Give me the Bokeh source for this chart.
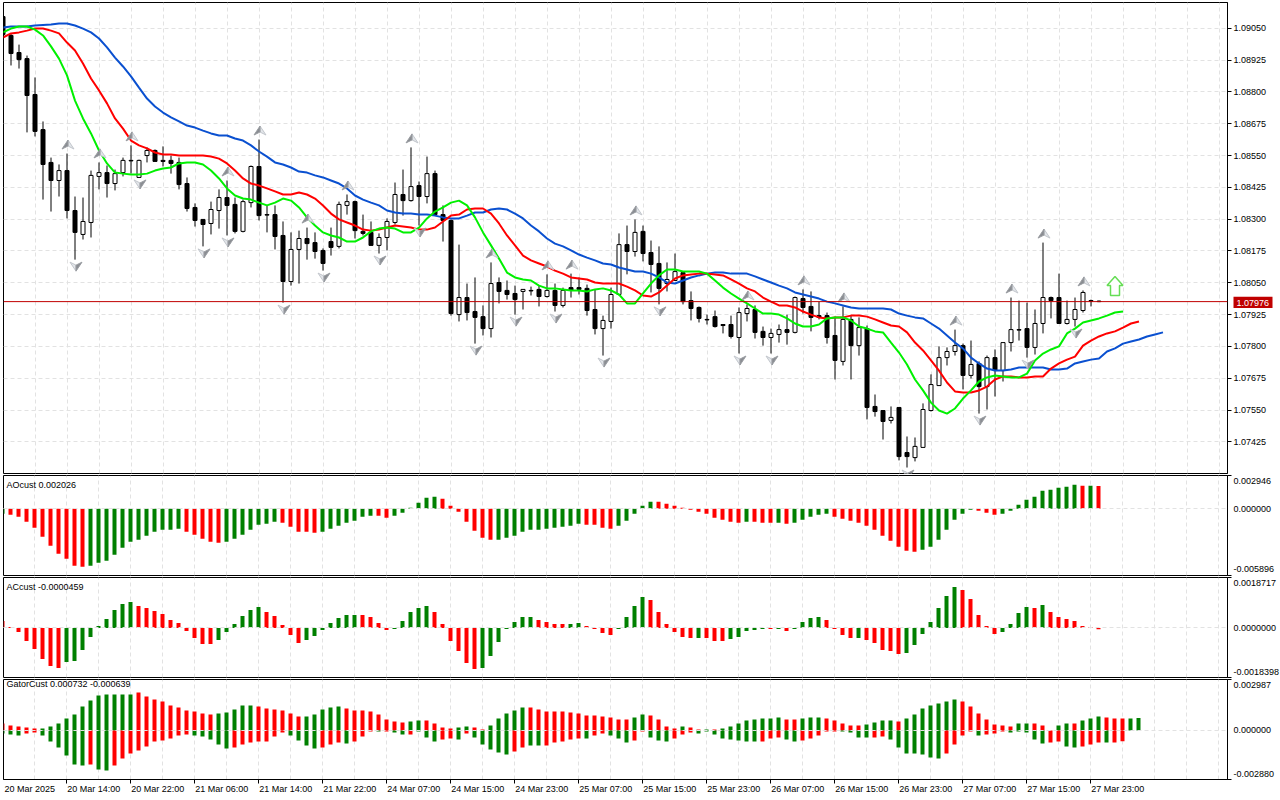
from bokeh.plotting import figure
from bokeh.layouts import column
from bokeh.core.properties import value
from bokeh.models import (ColumnDataSource, FixedTicker, Grid, Label, LinearAxis,
                          NumeralTickFormatter, Range1d, Span)
from bokeh.embed import file_html
from bokeh.resources import INLINE

# ---------- data: prices as points above 1.08000 ----------
BASE = 1.08
open_pts = [1096,1022,955,931,790,652,523,452,491,334,
240,287,468,483,440,483,531,464,550,570,
531,531,523,440,346,299,283,334,385,358,
252,365,507,318,318,236,55,181,224,208,
177,212,193,354,369,252,248,197,228,287,
397,373,432,389,479,318,295,-75,-8,-63,
-83,-130,51,20,8,16,20,24,-4,20,
-39,31,31,28,-55,-130,-102,4,200,173,
252,169,126,47,59,90,-20,-47,-94,-83,
-114,-114,-165,-71,-55,-141,-165,-153,-134,-145,
-12,-43,-79,-79,-157,-259,-94,-197,-130,-436,
-452,-491,-440,-617,-637,-597,-452,-354,-244,-220,
-197,-314,-267,-358,-244,-295,-185,-134,-130,-204,
-110,-8,-8,-110,-94,-59,-20,-22]
close_pts = [1026,951,927,786,645,515,452,491,334,248,
291,472,483,440,479,531,529,531,570,527,
527,519,436,342,295,279,338,385,354,252,
369,507,314,316,232,55,181,224,204,173,
126,189,358,369,255,244,197,228,291,397,
373,428,389,479,318,295,-71,-8,-67,-86,
-130,47,16,4,-16,24,18,-4,20,-39,
20,20,24,-59,-130,-98,4,200,173,248,
165,122,28,63,94,-24,-51,-90,-96,-122,
-118,-161,-67,-51,-145,-165,-149,-134,-145,-8,
-47,-86,-86,-165,-255,-94,-197,-126,-440,-456,
-495,-479,-633,-633,-593,-448,-350,-244,-220,-197,
-314,-271,-358,-244,-295,-185,-134,-136,-204,-110,
-8,-20,-110,-94,-55,12,-22,-24]
high_pts = [1104,1030,986,943,857,684,542,515,558,389,
385,491,523,511,495,542,590,534,582,574,
586,550,542,464,362,299,369,417,452,385,
377,511,613,354,354,291,248,255,267,248,
185,267,369,397,373,318,291,244,303,444,
495,582,448,546,491,354,299,200,47,71,
-39,130,71,59,39,24,35,39,83,47,
31,86,71,43,24,-79,31,244,275,299,
275,216,193,130,165,90,16,-43,-75,-59,
-114,-79,-47,-35,-39,-122,-130,-114,-75,-4,
24,16,-24,-67,-83,-43,-79,-86,-118,-389,
-452,-436,-440,-554,-558,-424,-310,-200,-204,-134,
-189,-177,-259,-236,-212,-185,-8,-20,-28,-55,
208,-4,86,-20,-8,20,-16,-20]
low_pts = [1018,904,892,641,625,377,330,389,303,141,
220,228,417,385,413,468,479,464,523,527,
507,479,417,330,271,193,240,263,236,244,
248,346,295,248,181,-28,39,47,141,145,
98,157,185,318,224,236,197,165,177,279,
314,369,275,362,318,212,-79,-102,-98,-189,
-157,-165,-31,-16,-75,-55,0,-43,-8,-63,
-47,-8,4,-79,-153,-236,-130,0,83,153,
134,12,-35,16,59,-35,-98,-106,-114,-126,
-149,-169,-228,-102,-169,-197,-228,-185,-193,-149,
-71,-141,-94,-189,-330,-275,-330,-236,-487,-476,
-566,-503,-648,-676,-652,-597,-456,-354,-275,-236,
-369,-326,-464,-448,-397,-338,-220,-177,-244,-232,
-149,-90,-110,-114,-122,-67,-43,-26]

lips_pts = [1034,1049,1057,1057,1045,1022,979,931,865,766,
696,637,570,519,483,479,476,476,479,491,
499,503,519,523,523,515,491,460,421,393,
381,377,365,354,365,381,373,346,307,275,
248,236,228,212,212,228,252,263,267,263,
248,248,267,303,330,346,365,373,354,307,
248,197,145,90,71,63,59,39,28,28,
24,20,20,16,24,28,20,4,-31,-31,
8,47,79,102,102,94,94,94,86,59,
31,8,-12,-31,-51,-71,-71,-75,-90,-110,
-122,-122,-114,-90,-86,-86,-98,-122,-130,-141,
-145,-185,-224,-271,-330,-373,-421,-452,-464,-444,
-405,-373,-338,-322,-314,-318,-322,-322,-307,-255,
-228,-212,-200,-149,-130,-106,-98,-90,-79,-67,
-63]
teeth_pts = [1014,1030,1034,1041,1049,1049,1041,1030,994,963,
912,853,806,755,696,656,609,590,578,562,
554,554,550,550,550,550,546,538,519,491,
460,440,432,421,409,397,397,405,397,381,
354,322,299,287,275,259,255,259,267,275,
271,267,259,259,267,291,314,318,338,342,
342,322,283,236,197,157,138,126,114,98,
86,71,67,63,51,47,47,47,35,20,
0,-4,12,39,67,79,83,86,86,83,
79,63,47,28,16,-8,-24,-39,-39,-47,
-63,-75,-86,-90,-86,-86,-79,-79,-83,-94,
-106,-118,-122,-145,-185,-216,-255,-295,-342,-377,
-381,-381,-373,-358,-330,-318,-318,-322,-322,-318,
-318,-287,-267,-252,-240,-197,-177,-161,-149,-141,
-126,-110,-102]
jaw_pts = [1053,1057,1057,1057,1061,1063,1065,1069,1069,1061,
1049,1034,1010,975,935,900,861,817,774,743,
719,700,684,668,660,648,637,629,629,617,
609,590,566,546,523,515,503,487,483,472,
464,452,440,421,393,377,365,354,334,326,
322,322,318,318,314,307,303,303,314,326,
326,338,342,338,322,303,275,252,224,204,
193,177,161,149,138,126,122,110,102,94,
94,86,71,51,47,59,71,79,86,90,
90,86,86,86,75,63,51,39,28,12,
4,-4,-12,-24,-31,-39,-47,-51,-51,-51,
-51,-55,-71,-79,-86,-90,-110,-130,-157,-185,
-208,-244,-267,-287,-295,-295,-291,-283,-283,-283,
-283,-291,-291,-287,-267,-259,-252,-248,-220,-208,
-189,-181,-173,-161,-153,-145]

fractal_up = [8,12,16,28,32,38,43,51,61,68,71,79,93,100,105,119,126,130,135]
fractal_down = [9,17,25,28,35,40,47,52,59,64,69,75,82,92,96,113,122,128,134]
signal_bar = 139
signal_pts = 0
last_price = 1.07976

ao_e6 = [-442,-531,-707,-1149,-1680,-2476,-3272,-3979,-4421,-5040,
-5128,-5040,-4775,-4598,-4067,-3448,-2918,-2741,-2387,-2034,
-1857,-1857,-1768,-2034,-2299,-2653,-2918,-3006,-2918,-2653,
-2299,-1857,-1415,-1326,-1149,-1238,-1592,-2034,-2034,-2122,
-2034,-1768,-1503,-1238,-1061,-707,-619,-619,-796,-619,
-354,88,531,973,1061,884,265,-265,-1149,-1945,
-2564,-2741,-2741,-2564,-2387,-2034,-1857,-1857,-1768,-1680,
-1592,-1503,-1326,-1415,-1415,-1680,-1768,-1503,-1061,-442,
265,619,619,442,265,88,-88,-265,-442,-796,
-973,-1149,-1238,-1149,-1149,-1238,-1238,-1238,-1326,-1238,
-973,-707,-531,-442,-707,-884,-1061,-1238,-1503,-1857,
-2387,-2829,-3360,-3714,-3802,-3625,-3360,-2741,-1857,-973,
-442,-88,-177,-354,-531,-442,-177,354,796,1061,
1592,1680,1857,1945,2122,2034,2034,2026]
ao_runs = [1,10,12,5,7,5,7,2,6,7,11,4,5,11,1,3,1,1,5,11,7,3,10,1,1,1]   # starts green

ac_e7 = [2598,371,-1485,-4825,-7794,-11506,-14104,-14846,-12619,-12248,
-8165,-3340,742,3340,6681,8908,9650,8165,7423,6310,
5196,2969,1856,-1113,-3712,-5938,-5938,-4454,-1485,1485,
4454,6681,7794,5938,4454,1113,-2598,-5567,-4454,-2969,
-742,1856,3712,4825,4825,4825,4083,1856,-742,-371,
2598,5938,7423,8165,5938,1485,-4825,-8536,-12990,-15217,
-14846,-10392,-5196,-371,2227,4083,4083,2969,2227,1485,
1485,1485,1856,742,-371,-1856,-2598,-371,4083,8165,
11506,10392,5938,1485,-1485,-3340,-3712,-3712,-3712,-4825,
-4825,-4083,-3340,-1113,-742,-371,-371,-371,-1113,-371,
2227,3712,4083,2969,-371,-2598,-3712,-3712,-4454,-5567,
-8165,-8536,-9650,-9279,-6310,-2227,2227,7423,11877,15217,
14104,10763,4825,742,-2227,-1485,1485,5567,7794,7423,
8536,5938,4083,3340,2598,742,371,-459]
ac_runs = [8,9,10,6,5,7,4,5,6,7,4,2,4,4,6,1,3,5,1,1,1,4,4,1,5,7,5,4,1,1,7]   # starts red

gator_up_e6 = [411,293,235,176,117,117,235,411,704,939,
1408,1760,2053,2112,2112,2112,2112,2229,1995,1819,
1701,1467,1349,1173,1115,997,939,997,1056,1232,
1467,1467,1408,1291,1232,1173,997,821,821,939,
1232,1349,1408,1291,1173,1173,1115,939,645,528,
469,528,587,587,411,176,117,176,235,176,
59,293,704,997,1173,1349,1349,1232,1115,1115,
1115,1056,997,880,880,821,763,645,645,763,
939,880,645,235,117,235,176,59,59,59,
117,235,411,587,645,704,704,763,645,645,
704,763,763,704,587,411,293,293,352,469,
587,587,528,704,939,1291,1467,1584,1701,1819,
1701,1408,997,645,352,293,235,411,411,411,
293,0,293,411,411,587,704,821,763,704,704,704,732]
gator_up_runs = [5,12,10,5,6,5,8,2,4,2,2,5,13,2,4,1,2,1,1,8,2,3,5,4,1,7,7,2,3,2,1,3,3,2]   # starts red
gator_dn_e6 = [-176,-235,-293,-176,-117,-293,-645,-997,-1467,-1995,
-2053,-1995,-2288,-2347,-2053,-1643,-1349,-1173,-939,-645,
-587,-469,-293,-235,-293,-352,-528,-821,-1056,-997,
-821,-704,-645,-645,-352,-117,-293,-587,-880,-1056,
-997,-821,-704,-763,-645,-352,-59,-59,-59,-117,
-235,-235,-59,-411,-645,-528,-469,-528,-176,-411,
-821,-1115,-1291,-1408,-1232,-997,-880,-880,-880,-704,
-645,-528,-469,-469,-293,-176,-293,-469,-704,-587,
-59,-411,-587,-645,-469,-235,-117,-176,-59,-235,
-469,-528,-587,-645,-645,-645,-469,-411,-528,-645,
-587,-469,-293,-59,-59,-59,-117,-411,-411,-411,
-352,-528,-997,-1349,-1349,-1408,-1584,-1643,-1349,-821,
-293,-59,-293,-235,-176,-59,-117,-59,-117,-528,
-763,-704,-645,-939,-997,-939,-821,-704,-704,-704,-639]
gator_dn_runs = [3,2,6,1,2,10,5,7,4,3,1,3,1,1,2,1,3,2,1,1,5,2,2,5,1,2,3,2,3,3,8,3,2,5,4,2,7,4,1,3,5,2,2,3,1,2]   # starts green

price_ticks = [1.09050,1.08925,1.08800,1.08675,1.08550,1.08425,1.08300,1.08175,1.08050,1.07925,1.07800,1.07675,1.07550,1.07425]
time_ticks = list(range(0,137,8))
time_labels = ["20 Mar 2025","20 Mar 14:00","20 Mar 22:00","21 Mar 06:00","21 Mar 14:00","21 Mar 22:00",
               "24 Mar 07:00","24 Mar 15:00","24 Mar 23:00","25 Mar 07:00","25 Mar 15:00","25 Mar 23:00",
               "26 Mar 07:00","26 Mar 15:00","26 Mar 23:00","27 Mar 07:00","27 Mar 15:00","27 Mar 23:00"]

# ---------- styles ----------
FONT = "Liberation Sans"
FS = "9px"
UP, DOWN = "#008000", "#ff0000"
GRID = "#e2e2e2"
PX_PRICE = 3.93e-5  # price per pixel on the main pane
W, FW = 1280, 1224


def prices(pts):
    return [BASE + v / 1e5 for v in pts]


def make_fig(frame_h, y0, y1, x0, top, bottom):
    p = figure(width=W, height=top + frame_h + bottom, frame_width=FW, frame_height=frame_h,
               x_range=Range1d(x0, x0 + FW / 8), y_range=Range1d(y0, y1),
               x_axis_type=None, y_axis_type=None, toolbar_location=None, output_backend="svg",
               min_border_left=3, min_border_right=53, min_border_top=top, min_border_bottom=bottom,
               background_fill_color="white", border_fill_color="white",
               outline_line_color="black", outline_line_width=1)
    p.add_layout(Grid(dimension=0, ticker=FixedTicker(ticks=list(range(4, 154, 4))),
                      grid_line_color=GRID, grid_line_dash="4 3", grid_line_width=1))
    return p


def style_axis(a):
    a.major_label_text_font = FONT
    a.major_label_text_font_size = FS
    a.major_label_text_color = "black"
    a.minor_tick_line_color = None
    a.major_tick_in = 0
    a.axis_line_color = "black"
    a.major_tick_line_color = "black"


def tick_only(ticks):
    a = LinearAxis(ticker=FixedTicker(ticks=ticks), major_label_overrides={t: "" for t in ticks})
    style_axis(a)
    a.major_tick_out = 4
    a.major_label_text_font_size = "1px"
    a.major_label_standoff = 0
    return a


def expand(runs, first):
    other = UP if first == DOWN else DOWN
    out, cur = [], first
    for n in runs:
        out += [cur] * n
        cur = other if cur == first else first
    return out


def pane(frame_h, top_v, bot_v, title, title_v, label_at, labels, series, bottom, top=1):
    p = make_fig(frame_h, bot_v, top_v, 0.125, top, bottom)
    for vals, cols in series:
        xs = list(range(len(vals)))
        p.vbar(x=xs, top=vals, bottom=[0] * len(vals), width=0.5, fill_color=cols, line_color=None)
    zero = Grid(dimension=1, ticker=FixedTicker(ticks=[0]), grid_line_color=GRID, grid_line_dash="4 3",
                grid_line_width=1, level="overlay")
    p.add_layout(zero)
    p.add_layout(tick_only([top_v, bot_v]), "right")
    lab_ax = LinearAxis(ticker=FixedTicker(ticks=label_at), major_label_overrides=dict(zip(label_at, labels)))
    style_axis(lab_ax)
    lab_ax.major_tick_out = 0
    lab_ax.major_tick_line_color = None
    lab_ax.axis_line_color = None
    lab_ax.major_label_standoff = 2
    p.add_layout(lab_ax, "right")
    p.add_layout(Label(x=0.5, y=title_v, text=title, text_font=FONT, text_font_size=FS, text_color="black",
                       text_baseline="middle", text_align="left"))
    return p


# ---------- main pane ----------
main = make_fig(471, 1.073005, 1.091515, 0.0625, 2, 1)
main.add_layout(Grid(dimension=1, ticker=FixedTicker(ticks=price_ticks), grid_line_color=GRID,
                     grid_line_dash="4 3", grid_line_width=1))

bars = list(range(len(open_pts)))
src = ColumnDataSource(dict(
    x=bars, h=prices(high_pts), l=prices(low_pts),
    o=prices(open_pts), c=prices(close_pts),
    fill=["white" if c > o else "black" for o, c in zip(open_pts, close_pts)]))
main.segment("x", "h", "x", "l", source=src, line_color="black", line_width=1)
main.vbar(x="x", top="o", bottom="c", width=0.5, source=src, fill_color="fill", line_color="black", line_width=1)

main.add_layout(Span(location=last_price, dimension="width", line_color="#c00000", line_width=1))

main.line(list(range(len(jaw_pts))), prices(jaw_pts), line_color="#0a50d0", line_width=2)
main.line(list(range(len(teeth_pts))), prices(teeth_pts), line_color="#ff0000", line_width=2)
main.line(list(range(len(lips_pts))), prices(lips_pts), line_color="#00f000", line_width=2)


def dart(i, base, side):
    """half-dart polygons relative to a bar, sized in pixels"""
    gap = 9 if side > 0 else 7
    cx = i + 1 / 8
    cy = base + side * gap * PX_PRICE
    tip = (cx, cy + side * 4.5 * PX_PRICE)
    notch = (cx, cy - side * 1.5 * PX_PRICE)
    left = (cx - 6 / 8, cy - side * 4.5 * PX_PRICE)
    right = (cx + 6 / 8, cy - side * 4.5 * PX_PRICE)
    return [tip, left, notch], [tip, right, notch]


dark, light = [], []
for i in fractal_up:
    a, b = dart(i, BASE + high_pts[i] / 1e5, 1)
    dark.append(a); light.append(b)
for i in fractal_down:
    a, b = dart(i, BASE + low_pts[i] / 1e5, -1)
    light.append(a); dark.append(b)
main.patches([[q[0] for q in s] for s in light], [[q[1] for q in s] for s in light],
             fill_color="#e3e6ea", line_color="#c2c6cc", line_width=1)
main.patches([[q[0] for q in s] for s in dark], [[q[1] for q in s] for s in dark],
             fill_color="#8a8d92", line_color="#9a9da2", line_width=1)

sig_shape = [(0, 19), (8, 10), (4.5, 10), (4.5, 0), (-4.5, 0), (-4.5, 10), (-8, 10)]
main.patch([signal_bar + dx / 8 for dx, dy in sig_shape],
           [BASE + signal_pts / 1e5 + dy * PX_PRICE for dx, dy in sig_shape],
           fill_color="white", line_color="#66dd55", line_width=1.5)

pax = LinearAxis(ticker=FixedTicker(ticks=price_ticks), formatter=NumeralTickFormatter(format="0.00000"))
style_axis(pax)
pax.major_tick_out = 4
pax.major_label_standoff = 2
main.add_layout(pax, "right")

# last-price tag: a transparent full-width strip laid over the price axis
tag = figure(width=W, height=12, frame_width=W, frame_height=12, x_range=Range1d(0, W), y_range=Range1d(0, 12),
             x_axis_type=None, y_axis_type=None, toolbar_location=None, output_backend="svg",
             min_border_left=0, min_border_right=0, min_border_top=0, min_border_bottom=0,
             background_fill_color=None, border_fill_color=None,
             outline_line_color=None, margin=(-178, 0, 166, 0))
tag.quad(left=[1230], right=[1269], bottom=[0], top=[12], fill_color="#c00000", line_color=None)
tag.text(x=[1233], y=[6], text=[f"{last_price:.5f}"], text_font=value(FONT), text_font_size=value(FS),
         text_color="white", text_baseline="middle", text_align="left")

# ---------- indicator panes ----------
ao_vals = [v / 1e6 for v in ao_e6]
ao = pane(100, 0.002946, -0.005896, "AOcust 0.002026", 0.00215,
          [0.002416, 0.0, -0.005365], ["0.002946", "0.000000", "-0.005896"],
          [(ao_vals, expand(ao_runs, UP))], 1)
ac_vals = [v / 1e7 for v in ac_e7]
ac = pane(100, 0.0018717, -0.0018398, "ACcust -0.0000459", 0.00152,
          [0.0016861, 0.0, -0.001643], ["0.0018717", "0.0000000", "-0.0018398"],
          [(ac_vals, expand(ac_runs, DOWN))], 1)
g_up = [v / 1e6 for v in gator_up_e6]
g_dn = [v / 1e6 for v in gator_dn_e6]
ga = pane(100, 0.002987, -0.00288, "GatorCust 0.000732 -0.000639", 0.00275,
          [0.002676, 0.0, -0.002569], ["0.002987", "0.000000", "-0.002880"],
          [(g_up, expand(gator_up_runs, DOWN)), (g_dn, expand(gator_dn_runs, UP))], 21)

ga.add_layout(tick_only(time_ticks), "below")
lab_pos = [t + 3.4 for t in time_ticks]
tl = LinearAxis(ticker=FixedTicker(ticks=lab_pos), major_label_overrides=dict(zip(lab_pos, time_labels)))
style_axis(tl)
tl.major_tick_out = 0
tl.major_tick_line_color = None
tl.axis_line_color = None
tl.major_label_standoff = 0
ga.add_layout(tl, "below")

page = column(main, tag, ao, ac, ga, spacing=0)
open("out.html", "w").write(file_html(page, INLINE))
